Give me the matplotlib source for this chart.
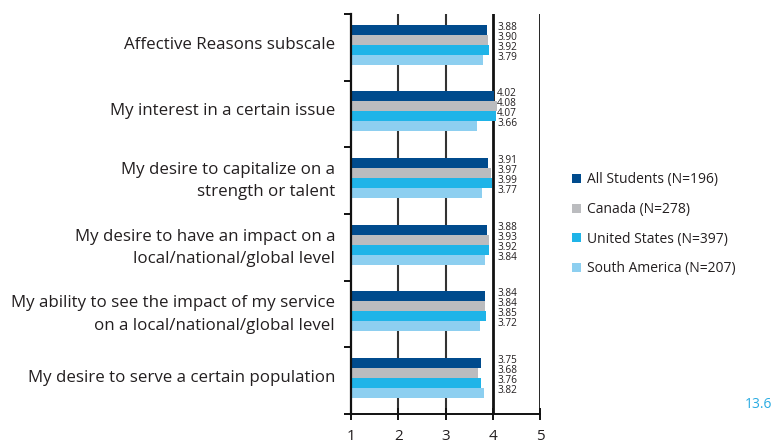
import matplotlib
matplotlib.use("Agg")
import matplotlib.pyplot as plt
from matplotlib.patches import Patch
import numpy as np

plt.rcParams['font.family'] = ['Open Sans', 'DejaVu Sans']

categories = [
    "Affective Reasons subscale",
    "My interest in a certain issue",
    "My desire to capitalize on a\nstrength or talent",
    "My desire to have an impact on a\nlocal/national/global level",
    "My ability to see the impact of my service\non a local/national/global level",
    "My desire to serve a certain population",
]
series_names = ["All Students (N=196)", "Canada (N=278)",
                "United States (N=397)", "South America (N=207)"]
all_students = [3.88, 4.02, 3.91, 3.88, 3.84, 3.75]
canada = [3.90, 4.08, 3.97, 3.93, 3.84, 3.68]
united_states = [3.92, 4.07, 3.99, 3.92, 3.85, 3.76]
south_america = [3.79, 3.66, 3.77, 3.84, 3.72, 3.82]
x_ticks = [1, 2, 3, 4, 5]
page_label = "13.6"

series = [all_students, canada, united_states, south_america]
colors = ["#004B8D", "#BBBCBF", "#1FB4E8", "#8DCFF0"]
text_color = "#231F20"

fig = plt.figure(figsize=(7.72, 4.40), dpi=100)
ax = fig.add_axes([351/772, 1-414/440, (540-351)/772, 400/440])

n = len(categories)
ypos = np.arange(n)
bh = 0.15
offsets = np.array([-1.5, -0.5, 0.5, 1.5]) * bh - 0.04
base = 1

# vertical grid lines
for xv, lw, c in [(2, 1.5, "#333333"), (3, 1.5, "#333333"), (4, 2.0, "#111111"), (5, 1.2, "#000000")]:
    ax.axvline(xv, color=c, lw=lw, zorder=1)

handles = []
for s, (vals, col) in enumerate(zip(series, colors)):
    widths = [v - base for v in vals]
    ax.barh(ypos + offsets[s], widths, left=base, height=bh, color=col, zorder=2, linewidth=0)
    handles.append(Patch(facecolor=col, edgecolor='none'))
    for i, v in enumerate(vals):
        ax.text(4.09, ypos[i] + offsets[s] - 0.04, f"{v:.2f}", fontsize=7.2,
                va='center', ha='left', color=text_color, zorder=3)

ax.set_xlim(1, 5)
ax.set_ylim(n - 0.5, -0.5)
for sp in ['top', 'right']:
    ax.spines[sp].set_visible(False)
ax.spines['left'].set_linewidth(1.6)
ax.spines['left'].set_color("#111111")
ax.spines['bottom'].set_linewidth(1.4)
ax.spines['bottom'].set_color("#111111")

ax.set_xticks(x_ticks)
ax.set_xticklabels([str(t) for t in x_ticks])
ax.tick_params(axis='x', direction='inout', length=8, width=1.4, colors="#111111",
               labelsize=11, pad=7, labelcolor=text_color)

ax.set_yticks(ypos - 0.07)
ax.set_yticklabels(categories, fontsize=12.2, color=text_color, linespacing=1.52)
ax.tick_params(axis='y', which='major', length=0, pad=11.5)
ax.set_yticks(np.arange(n + 1) - 0.5, minor=True)
ax.tick_params(axis='y', which='minor', length=5, width=1.4, color="#111111")

fig.legend(handles, series_names, loc='upper left', bbox_to_anchor=(559/772, 1-160/440),
           frameon=False, fontsize=10, handlelength=0.65, handleheight=0.65,
           handletextpad=0.5, labelspacing=1.05, labelcolor=text_color)

fig.text(745/772, 1-404/440, page_label, fontsize=10, color="#29ABE2", va='center', ha='left')

fig.savefig("out.png", dpi=100)
